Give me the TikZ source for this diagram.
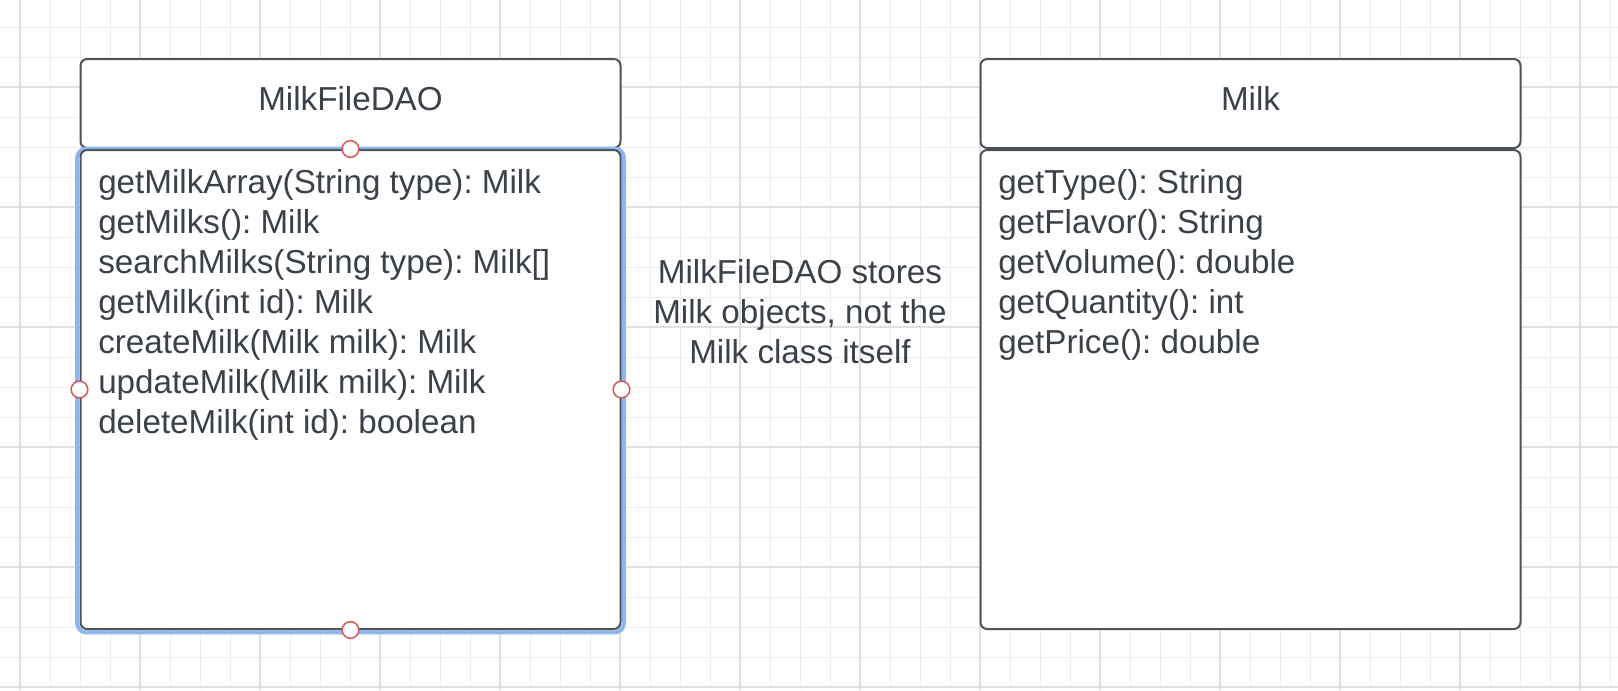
\documentclass[tikz,border=0pt]{standalone}
\usepackage{fontspec}
\setmainfont{Liberation Sans}
\usetikzlibrary{positioning}
\definecolor{gridminor}{RGB}{237,237,237}
\definecolor{gridmajor}{RGB}{224,224,224}
\definecolor{boxline}{RGB}{78,82,89}
\definecolor{textgray}{RGB}{59,65,73}
\definecolor{selblue}{RGB}{140,182,240}
\definecolor{handlered}{RGB}{214,82,90}
\newcommand{\umlfont}{\fontsize{24.9pt}{30pt}\selectfont}
\frenchspacing

\tikzset{
    classhead/.style={draw=boxline, line width=1.5pt, rounded corners=5pt, fill=white,
        minimum width=405pt, minimum height=66.75pt, inner sep=0pt},
    classbody/.style={draw=boxline, line width=1.5pt, rounded corners=5pt, fill=white,
        minimum width=405pt, minimum height=359.25pt, inner sep=0pt},
    umltext/.style={text=textgray, font=\umlfont, inner sep=0pt},
    handle/.style={circle, draw=handlered, fill=white, line width=1.1pt,
        minimum size=12.5pt, inner sep=0pt},
}

\begin{document}
\begin{tikzpicture}[x=0.75pt, y=-0.75pt]
    \useasboundingbox (0,0) rectangle (1618,690);
    % Background grid
    \foreach \gx in {20,50,...,1610} \draw[gridminor, line width=0.75pt] (\gx,0) -- (\gx,690);
    \foreach \gy in {27,57,...,687} \draw[gridminor, line width=0.75pt] (0,\gy) -- (1618,\gy);
    \foreach \gx in {20,140,...,1580} \draw[gridmajor, line width=0.9pt] (\gx,0) -- (\gx,690);
    \foreach \gy in {87,207,...,687} \draw[gridmajor, line width=0.9pt] (0,\gy) -- (1618,\gy);
    % MilkFileDAO class
    \node[classhead, anchor=north west] (daohead) at (79.5,58) {};
    \coordinate (selnw) at ([yshift=-1.5pt]daohead.south west);
    \coordinate (selse) at ([yshift=-360.75pt]daohead.south east);
    \draw[selblue, line width=3pt, rounded corners=7pt]
        ([shift={(-1.8pt,1.8pt)}]selnw) rectangle ([shift={(1.8pt,-1.8pt)}]selse);
    \node[classbody, below=0pt of daohead] (daobody) {};
    \node[umltext] (daoname) at ([yshift=3.4pt]daohead.center) {MilkFileDAO};
    % Milk class
    \node[classhead, anchor=north west] (milkhead) at (979.5,58) {};
    \node[classbody, below=0pt of milkhead] (milkbody) {};
    \node[umltext] (milkname) at ([yshift=3.4pt]milkhead.center) {Milk};
    % Selection handles
    \foreach \a in {north,south,east,west} \node[handle] (h\a) at (daobody.\a) {};
    % Methods
    \foreach \m [count=\i from 0] in {getMilkArray(String type): Milk, getMilks(): Milk,
        searchMilks(String type): Milk[], getMilk(int id): Milk, createMilk(Milk milk): Milk,
        updateMilk(Milk milk): Milk, deleteMilk(int id): boolean}
        \node[umltext, anchor=base west] (daom\i) at (98,{193.5+40*\i}) {\m};
    \foreach \m [count=\i from 0] in {getType(): String, getFlavor(): String,
        getVolume(): double, getQuantity(): int, getPrice(): double}
        \node[umltext, anchor=base west] (milkm\i) at (998,{193.5+40*\i}) {\m};
    % Note
    \node[umltext, align=center] (note) at (800,312) {MilkFileDAO stores\\Milk objects, not the\\Milk class itself};
\end{tikzpicture}
\end{document}
